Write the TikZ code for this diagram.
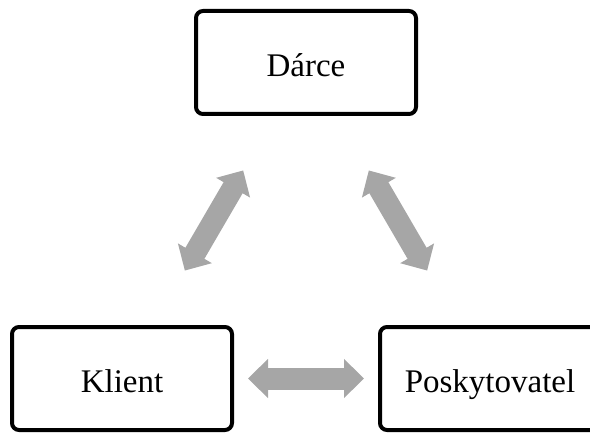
\documentclass[tikz,border=0pt]{standalone}
\usepackage{fontspec}
\setmainfont{Liberation Serif}
\usetikzlibrary{arrows.meta, positioning, calc}

\begin{document}
\begin{tikzpicture}[
  x=1pt, y=1pt,
  party/.style={draw, line width=4pt, rounded corners=7pt, minimum width=220pt, minimum height=103pt,
    inner sep=0pt, text height=28pt, text depth=0pt, font=\fontsize{33}{40}\selectfont},
  link/.style={draw=gray!70, line width=22pt,
    {Triangle[width=38pt,length=20pt]}-{Triangle[width=38pt,length=20pt]}}
]
\useasboundingbox (0,0) rectangle (590,432);

% Bottom row
\node[party] (klient) at (122,53.5) {Klient};
\node[party, right=144pt of klient] (poskyt) {Poskytovatel};

% Top
\coordinate (mid) at ($(klient.north)!0.5!(poskyt.north)$);
\node[party, above=209pt of mid] (darce) {Dárce};

% Arrows
\draw[link, shorten <=14pt, shorten >=14pt] (klient) -- (poskyt);
\draw[link, shorten <=63pt, shorten >=63pt] (darce) -- (klient);
\draw[link, shorten <=63pt, shorten >=63pt] (darce) -- (poskyt);

\end{tikzpicture}
\end{document}
